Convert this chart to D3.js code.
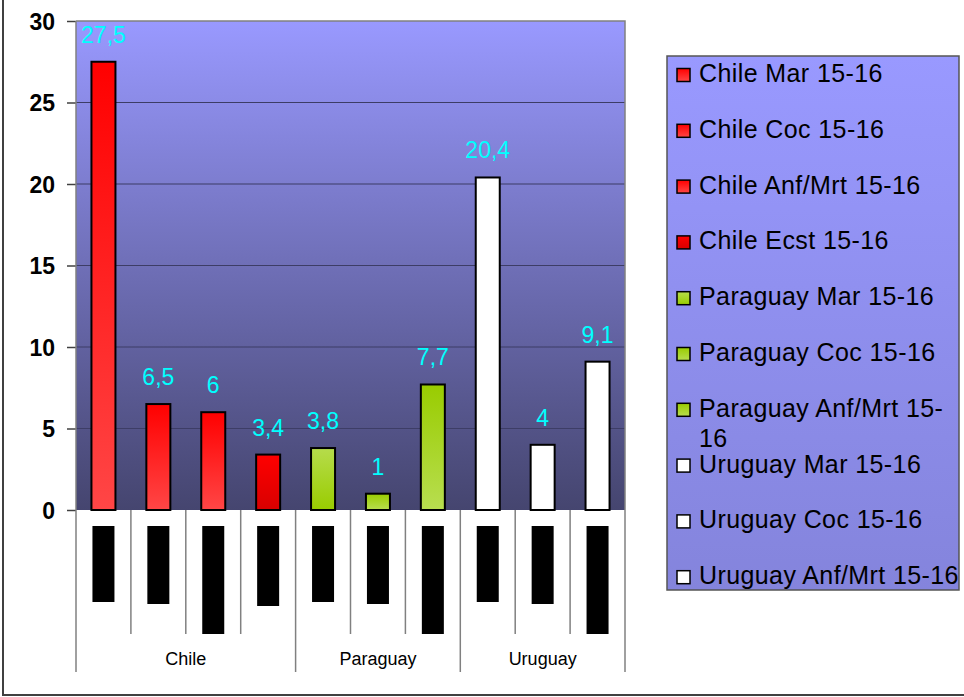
<!DOCTYPE html>
<html><head><meta charset="utf-8">
<script src="https://cdn.jsdelivr.net/npm/d3@7"></script>
<style>html,body{margin:0;padding:0;background:#fff}svg{display:block}</style>
</head><body>
<script>
// ---- data ----
const countries = ["Chile","Chile","Chile","Chile","Paraguay","Paraguay","Paraguay","Uruguay","Uruguay","Uruguay"];
const regions = ["Mar","Coc","Anf/Mrt","Ecst","Mar","Coc","Anf/Mrt","Mar","Coc","Anf/Mrt"];
const values = [27.5, 6.5, 6, 3.4, 3.8, 1, 7.7, 20.4, 4, 9.1];
const seriesNames = ["Chile Mar 15-16","Chile Coc 15-16","Chile Anf/Mrt 15-16","Chile Ecst 15-16",
  "Paraguay Mar 15-16","Paraguay Coc 15-16","Paraguay Anf/Mrt 15-16",
  "Uruguay Mar 15-16","Uruguay Coc 15-16","Uruguay Anf/Mrt 15-16"];
const groups = ["Chile","Paraguay","Uruguay"];
const yTicks = [0,5,10,15,20,25,30];

// styles
const fillKey = ["redA","redA","redA","redB","greenUp","greenDown","greenDown","white","white","white"];
const grads = {
  redA:["#ff0000","#ff4646"], redB:["#ff0000","#d80000"],
  greenUp:["#b6dc4c","#99cc00"], greenDown:["#99cc00","#b8de50"], white:["#ffffff","#ffffff"]
};
const hiddenLabelLen = {"Mar":76,"Coc":78,"Anf/Mrt":108,"Ecst":80};

const W=964,H=697;
const svg=d3.select("body").append("svg").attr("width",W).attr("height",H);
const defs=svg.append("defs");
function lg(id,top,bot){const g=defs.append("linearGradient").attr("id",id).attr("x1",0).attr("y1",0).attr("x2",0).attr("y2",1);
  g.append("stop").attr("offset","0%").attr("stop-color",top);g.append("stop").attr("offset","100%").attr("stop-color",bot);}
lg("plotBg","#9999ff","#45456f");
lg("legBg","#9999ff","#8484dc");
Object.entries(grads).forEach(([k,v])=>lg("g_"+k,v[0],v[1]));

const L=76,R=625,T=21,B=510;
const x=d3.scaleBand().domain(d3.range(values.length)).range([L,R]).padding(0);
const y=d3.scaleLinear().domain([0,30]).range([B,T]);

// frame
svg.append("line").attr("x1",3).attr("x2",3).attr("y1",0).attr("y2",695).attr("stroke","#404040").attr("stroke-width",2);
svg.append("line").attr("x1",2).attr("x2",964).attr("y1",695).attr("y2",695).attr("stroke","#404040").attr("stroke-width",2);

// plot background
svg.append("rect").attr("x",L).attr("y",T).attr("width",R-L).attr("height",B-T).attr("fill","url(#plotBg)");

// gridlines
svg.append("g").selectAll("line").data(yTicks.filter(t=>t>0&&t<30)).join("line")
  .attr("x1",L).attr("x2",R).attr("y1",d=>y(d)).attr("y2",d=>y(d)).attr("stroke","#3d3d66").attr("stroke-width",1.2);
// plot top/right border
svg.append("path").attr("d",`M${L},${T}H${R}V${B}`).attr("fill","none").attr("stroke","#808080").attr("stroke-width",1.5);

// y axis
const yAxis=d3.axisLeft(y).tickValues(yTicks).tickSize(9).tickPadding(12).tickFormat(d3.format("d"));
const ya=svg.append("g").attr("transform",`translate(${L},0)`).call(yAxis);
ya.select(".domain").remove();
ya.selectAll(".tick line").attr("stroke","#404040").attr("stroke-width",1.5);
ya.selectAll(".tick text").attr("font-family","Liberation Sans, Arial, sans-serif").attr("font-size",23).attr("font-weight","bold").attr("fill","#000").attr("dy","0.35em");
svg.append("line").attr("x1",L).attr("x2",L).attr("y1",T).attr("y2",672).attr("stroke","#808080").attr("stroke-width",1.5);

// category boundary lines
const groupStart = d3.range(values.length).filter(i=>i===0||countries[i]!==countries[i-1]);
svg.append("g").selectAll("line").data(d3.range(1,values.length+1)).join("line")
  .attr("x1",i=>i<values.length?x(i):R).attr("x2",i=>i<values.length?x(i):R)
  .attr("y1",B).attr("y2",i=>(i===values.length||groupStart.includes(i))?672:634)
  .attr("stroke","#808080").attr("stroke-width",1.5);

// bars
svg.append("g").selectAll("rect").data(values).join("rect")
  .attr("x",(d,i)=>x(i)+x.bandwidth()/2-12).attr("width",24)
  .attr("y",d=>y(d)).attr("height",d=>B-y(d))
  .attr("fill",(d,i)=>`url(#g_${fillKey[i]})`).attr("stroke","#000").attr("stroke-width",2);

// data labels
svg.append("g").selectAll("text").data(values).join("text")
  .attr("x",(d,i)=>x(i)+x.bandwidth()/2).attr("y",d=>y(d)-19)
  .attr("text-anchor","middle").attr("font-family","Liberation Sans, Arial, sans-serif").attr("font-size",23)
  .attr("fill","#000").attr("fill","#00ffff").text(d=>String(d).replace(".",","));

// sub-category labels (rendered as black blocks, text kept inside)
const sub=svg.append("g");
regions.forEach((r,i)=>{
  const cx=x(i)+x.bandwidth()/2, len=hiddenLabelLen[r];
  sub.append("rect").attr("x",cx-11).attr("y",526).attr("width",22).attr("height",len).attr("fill","#000");
  sub.append("text").attr("transform",`translate(${cx-4},529) rotate(90)`).attr("font-family","Liberation Sans, Arial, sans-serif")
    .attr("font-size",11).attr("fill","#000").attr("textLength",len-6).attr("lengthAdjust","spacingAndGlyphs").text(r+" 15-16");
});

// group labels
groups.forEach(g=>{
  const idx=d3.range(values.length).filter(i=>countries[i]===g);
  const x0=x(idx[0]), x1=x(idx[idx.length-1])+x.bandwidth();
  svg.append("text").attr("x",(x0+x1)/2).attr("y",665).attr("text-anchor","middle")
    .attr("font-family","Liberation Sans, Arial, sans-serif").attr("font-size",18).attr("fill","#000").text(g);
});

// legend
const lx=667,ly=56,lw=292,lh=534;
svg.append("rect").attr("x",lx).attr("y",ly).attr("width",lw).attr("height",lh).attr("fill","url(#legBg)").attr("stroke","#555").attr("stroke-width",1.5);
const lgG=svg.append("g");
seriesNames.forEach((s,i)=>{
  const by=82+i*55.8;
  lgG.append("rect").attr("x",677).attr("y",by-13.5).attr("width",13).attr("height",13)
    .attr("fill",`url(#g_${fillKey[i]})`).attr("stroke","#000").attr("stroke-width",1.5);
  const t=lgG.append("text").attr("x",699).attr("y",by).attr("font-family","Liberation Sans, Arial, sans-serif")
    .attr("font-size",25).attr("letter-spacing",0.4).attr("fill","#000");
  if(s==="Paraguay Anf/Mrt 15-16"){
    t.append("tspan").attr("x",699).text("Paraguay Anf/Mrt 15-");
    t.append("tspan").attr("x",699).attr("dy",30).text("16");
  } else t.text(s);
});
</script>
</body></html>
